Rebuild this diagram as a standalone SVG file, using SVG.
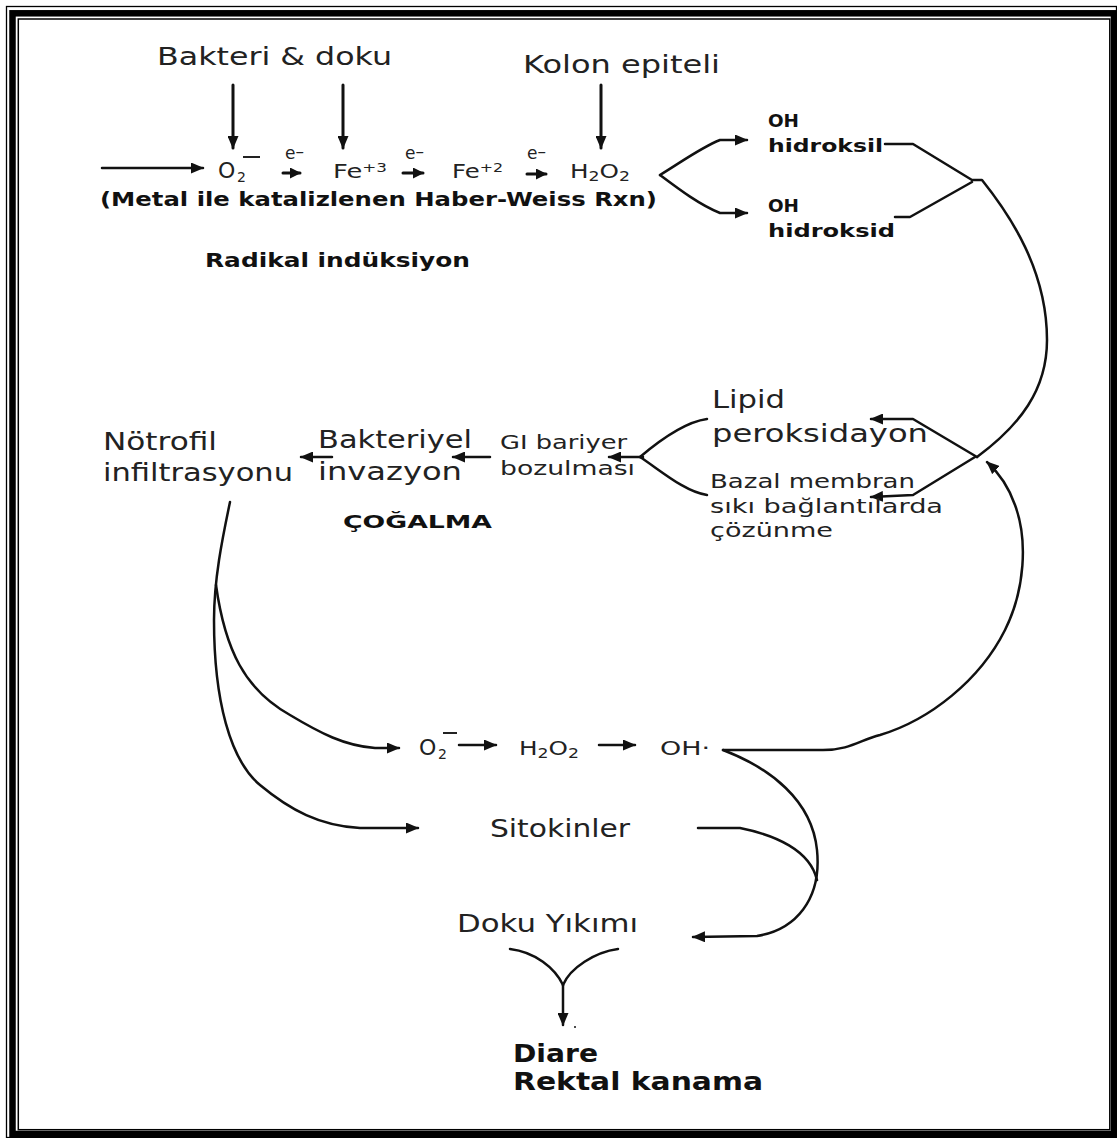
<svg xmlns="http://www.w3.org/2000/svg" width="1117" height="1138" viewBox="0 0 1117 1138">
<style>
.t{font-family:"DejaVu Sans","Liberation Sans",sans-serif;fill:#222;}
.b{font-family:"DejaVu Sans","Liberation Sans",sans-serif;font-weight:bold;fill:#111;}
.c{fill:none;stroke:#111;stroke-width:2.5;stroke-linejoin:round;stroke-linecap:round;}
.a{marker-end:url(#ah);}
.thick{stroke-width:3;}
.frame{fill:none;stroke:#000;}
</style>
<defs>
<marker id="ah" markerUnits="userSpaceOnUse" markerWidth="13" markerHeight="11" refX="12" refY="5.5" orient="auto">
<path d="M0,0 L13,5.5 L0,11 Z" fill="#111"/>
</marker>
<marker id="ahs" markerUnits="userSpaceOnUse" markerWidth="11" markerHeight="11" refX="10" refY="5.5" orient="auto">
<path d="M0,0 L11,5.5 L0,11 Z" fill="#111"/>
</marker>
</defs>
<rect width="1117" height="1138" fill="#fff"/>
<g id="frame">
<rect class="frame" x="6.5" y="6.5" width="1110" height="1131" stroke-width="1.3"/>
<rect class="frame" x="12.5" y="13.3" width="1101.5" height="1120.7" stroke-width="6.5"/>
<rect class="frame" x="18.3" y="19" width="1091.5" height="1110.7" stroke-width="1.5"/>
</g>

<g id="connectors">
<path class="c a" d="M102,168 L203,168"/>
<path class="c a thick" d="M233,85 L233,148"/>
<path class="c a thick" d="M343,85 L343,148"/>
<path class="c a thick" d="M601,85 L601,148"/>
<path class="c thick" d="M283,173 L300,173" marker-end="url(#ahs)"/>
<path class="c thick" d="M403,173 L423,173" marker-end="url(#ahs)"/>
<path class="c thick" d="M527,174 L546,174" marker-end="url(#ahs)"/>
<path class="c a" d="M660,175 C680,163 700,148 720,140 L747,140"/>
<path class="c a" d="M660,175 C680,190 700,205 720,213 L747,213"/>
<path class="c" d="M885,144 L913,144 L972,180 L982,180 C1010,215 1047,270 1047,340 C1047,390 1020,425 977,457"/>
<path class="c" d="M895,217 L910,217 L972,182"/>
<path class="c a" d="M977,457 L913,419 L871,419"/>
<path class="c a" d="M975,457 L913,495 L871,497"/>
<path class="c" d="M707,419 C685,422 660,440 640,457"/>
<path class="c" d="M707,495 C685,492 660,470 640,457"/>
<path class="c a" d="M643,457 L609,457"/>
<path class="c a" d="M490,457 L453,457"/>
<path class="c a" d="M332,457 L301,457"/>
<path class="c a" d="M230,502 C222,540 214,580 214,620 C214,700 230,760 260,785 C290,810 320,826 360,828 L418,828"/>
<path class="c a" d="M216,585 C225,650 245,690 290,715 C320,733 345,746 375,748 L399,748"/>
<path class="c a" d="M459,745 L496,745"/>
<path class="c a" d="M599,745 L635,745"/>
<path class="c a" d="M723,750 L823,750 C850,750 860,740 880,735 C930,720 980,680 1005,630 C1025,590 1028,540 1015,505 C1008,485 998,472 987,462"/>
<path class="c a" d="M723,750 C770,768 812,800 817,850 C822,900 795,930 757,936 L693,937"/>
<path class="c" d="M698,828 L740,828 C775,835 810,850 817,880"/>
<path class="c" d="M510,949 C535,952 555,968 563,985"/>
<path class="c" d="M618,949 C595,952 570,968 563,985"/>
<path class="c a" d="M563,985 L563,1025"/>
<circle cx="575" cy="1027" r="1" fill="#111"/>
</g>

<g id="n-bakteri"><text class="t" x="157" y="65" font-size="25" textLength="235" lengthAdjust="spacingAndGlyphs">Bakteri &amp; doku</text></g>
<g id="n-kolon"><text class="t" x="523" y="73" font-size="25" textLength="197" lengthAdjust="spacingAndGlyphs">Kolon epiteli</text></g>

<g id="n-o2">
<text class="t" x="218" y="178" font-size="22">O</text>
<text class="t" x="237" y="182" font-size="14">2</text>
<line x1="243" y1="157" x2="260" y2="157" stroke="#222" stroke-width="2"/>
</g>
<g id="n-e1"><text class="t" x="285" y="159" font-size="17">e<tspan dy="-2">–</tspan></text></g>
<g id="n-fe3"><text class="t" x="333" y="178" font-size="20" textLength="54" lengthAdjust="spacingAndGlyphs">Fe<tspan font-size="13" dy="-6">+3</tspan></text></g>
<g id="n-e2"><text class="t" x="405" y="159" font-size="17">e<tspan dy="-2">–</tspan></text></g>
<g id="n-fe2"><text class="t" x="452" y="178" font-size="20" textLength="51" lengthAdjust="spacingAndGlyphs">Fe<tspan font-size="13" dy="-6">+2</tspan></text></g>
<g id="n-e3"><text class="t" x="527" y="159" font-size="17">e<tspan dy="-2">–</tspan></text></g>
<g id="n-h2o2"><text class="t" x="570" y="178" font-size="20" textLength="60" lengthAdjust="spacingAndGlyphs">H<tspan font-size="14" dy="3">2</tspan><tspan dy="-3">O</tspan><tspan font-size="14" dy="3">2</tspan></text></g>
<g id="n-metal"><text class="b" x="100" y="206" font-size="19" textLength="557" lengthAdjust="spacingAndGlyphs">(Metal ile katalizlenen Haber-Weiss Rxn)</text></g>
<g id="n-radikal"><text class="b" x="205" y="267" font-size="19" textLength="265" lengthAdjust="spacingAndGlyphs">Radikal indüksiyon</text></g>

<g id="n-hidroksil">
<text class="b" x="768" y="127" font-size="17" textLength="31" lengthAdjust="spacingAndGlyphs">OH</text>
<text class="b" x="768" y="152" font-size="17" textLength="115" lengthAdjust="spacingAndGlyphs">hidroksil</text>
</g>
<g id="n-hidroksid">
<text class="b" x="768" y="212" font-size="17" textLength="31" lengthAdjust="spacingAndGlyphs">OH</text>
<text class="b" x="768" y="237" font-size="17" textLength="127" lengthAdjust="spacingAndGlyphs">hidroksid</text>
</g>

<g id="n-lipid">
<text class="t" x="712" y="408" font-size="25" textLength="73" lengthAdjust="spacingAndGlyphs">Lipid</text>
<text class="t" x="712" y="442" font-size="25" textLength="216" lengthAdjust="spacingAndGlyphs">peroksidayon</text>
</g>
<g id="n-bazal">
<text class="t" x="710" y="488" font-size="20" textLength="205" lengthAdjust="spacingAndGlyphs">Bazal membran</text>
<text class="t" x="710" y="513" font-size="20" textLength="233" lengthAdjust="spacingAndGlyphs">sıkı bağlantılarda</text>
<text class="t" x="710" y="537" font-size="20" textLength="123" lengthAdjust="spacingAndGlyphs">çözünme</text>
</g>
<g id="n-gi">
<text class="t" x="500" y="449" font-size="19" textLength="127" lengthAdjust="spacingAndGlyphs">GI bariyer</text>
<text class="t" x="500" y="475" font-size="19" textLength="135" lengthAdjust="spacingAndGlyphs">bozulması</text>
</g>
<g id="n-bakteriyel">
<text class="t" x="318" y="448" font-size="25" textLength="154" lengthAdjust="spacingAndGlyphs">Bakteriyel</text>
<text class="t" x="318" y="480" font-size="25" textLength="144" lengthAdjust="spacingAndGlyphs">invazyon</text>
</g>
<g id="n-notrofil">
<text class="t" x="103" y="450" font-size="25" textLength="114" lengthAdjust="spacingAndGlyphs">Nötrofil</text>
<text class="t" x="103" y="481" font-size="25" textLength="190" lengthAdjust="spacingAndGlyphs">infiltrasyonu</text>
</g>
<g id="n-cogalma"><text class="b" x="343" y="528" font-size="18" textLength="149" lengthAdjust="spacingAndGlyphs">ÇOĞALMA</text></g>

<g id="n-o2b">
<text class="t" x="419" y="755" font-size="22">O</text>
<text class="t" x="438" y="759" font-size="14">2</text>
<line x1="443" y1="733" x2="457" y2="733" stroke="#222" stroke-width="2"/>
</g>
<g id="n-h2o2b"><text class="t" x="519" y="755" font-size="20" textLength="60" lengthAdjust="spacingAndGlyphs">H<tspan font-size="14" dy="3">2</tspan><tspan dy="-3">O</tspan><tspan font-size="14" dy="3">2</tspan></text></g>
<g id="n-ohb"><text class="t" x="660" y="755" font-size="20" textLength="50" lengthAdjust="spacingAndGlyphs">OH·</text></g>
<g id="n-sitokin"><text class="t" x="490" y="837" font-size="24" textLength="140" lengthAdjust="spacingAndGlyphs">Sitokinler</text></g>
<g id="n-doku"><text class="t" x="457" y="932" font-size="24" textLength="181" lengthAdjust="spacingAndGlyphs">Doku Yıkımı</text></g>
<g id="n-diare">
<text class="b" x="513" y="1062" font-size="24" textLength="85" lengthAdjust="spacingAndGlyphs">Diare</text>
<text class="b" x="513" y="1090" font-size="24" textLength="250" lengthAdjust="spacingAndGlyphs">Rektal kanama</text>
</g>
</svg>
